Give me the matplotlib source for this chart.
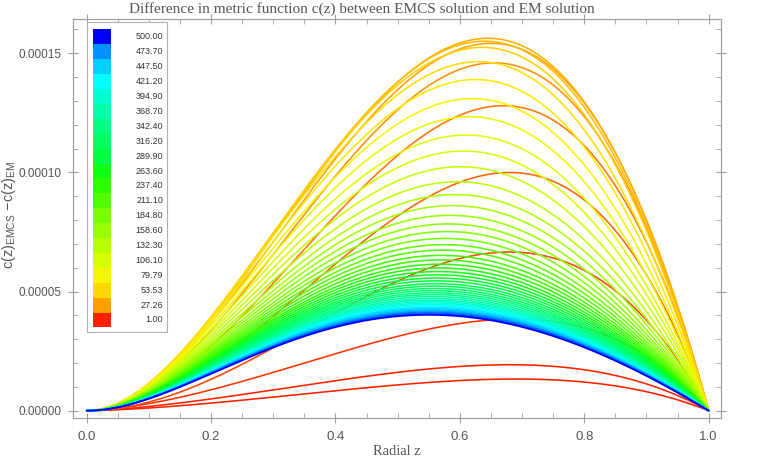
import numpy as np
import matplotlib
matplotlib.use('Agg')
import matplotlib.pyplot as plt
from matplotlib.colors import LinearSegmentedColormap
from matplotlib.patches import Rectangle

# ___data___
# parameter of every curve (sets its colour), drawn in this order
lam = [1, 2, 5, 10, 15, 20, 25, 30, 35, 40, 50, 60, 70, 80, 90, 100, 110, 120,
       130, 140, 150, 160, 170, 180, 190, 200, 210, 220, 230, 240, 250, 260,
       270, 280, 290, 300, 310, 320, 330, 340, 350, 360, 370, 380, 390, 400,
       410, 420, 430, 440, 450, 460, 470, 480, 490, 500]
# peak height of each curve (units of 1e-5)
peak_c = [1.33, 1.93, 3.85, 6.66, 10.0, 12.8, 14.6, 15.42, 15.63, 15.51, 15.25,
          14.65, 13.90, 13.10, 12.34, 11.57, 10.90, 10.24, 9.61, 9.07, 8.61,
          8.20, 7.84, 7.52, 7.23, 6.97, 6.74, 6.52, 6.33, 6.15, 5.99, 5.84,
          5.70, 5.57, 5.45, 5.33, 5.23, 5.13, 5.04, 4.95, 4.87, 4.79, 4.71,
          4.64, 4.58, 4.52, 4.46, 4.40, 4.34, 4.29, 4.24, 4.19, 4.15, 4.11,
          4.06, 4.02]
# radial position of each peak
peak_z = [0.69, 0.68, 0.69, 0.68, 0.68, 0.67, 0.655, 0.65, 0.645, 0.640, 0.636,
          0.630, 0.625, 0.620, 0.615, 0.610, 0.606, 0.601, 0.596, 0.592, 0.588,
          0.584, 0.581, 0.579, 0.576, 0.574, 0.572, 0.570, 0.569, 0.568, 0.566,
          0.565, 0.564, 0.563, 0.562, 0.561, 0.560, 0.559, 0.558, 0.558, 0.557,
          0.556, 0.556, 0.555, 0.555, 0.554, 0.554, 0.553, 0.553, 0.552, 0.552,
          0.551, 0.551, 0.551, 0.550, 0.550]
# how flat each curve leaves z = 0
start_pow = [1.5, 1.5, 1.6] + [2.0] * 53

# bar legend
legend_vals = ['1.00', '27.26', '53.53', '79.79', '106.10', '132.30', '158.60',
               '184.80', '211.10', '237.40', '263.60', '289.90', '316.20',
               '342.40', '368.70', '394.90', '421.20', '447.50', '473.70', '500.00']
legend_cols = ['#ff2000', '#ffa000', '#ffd800', '#f6f600', '#d8ff00', '#b8ff00',
               '#98ff00', '#78ff00', '#50ff00', '#30ff00', '#10ff18', '#00ff40',
               '#00ff60', '#00ff80', '#00ffa8', '#00ffd0', '#00ffff', '#00d0ff',
               '#0090ff', '#0000ff']

leg_num = [float(v) for v in legend_vals]
cmap = LinearSegmentedColormap.from_list(
    'bar', [((v - 1) / 499, c) for v, c in zip(leg_num, legend_cols)])

plt.rcParams['font.family'] = ['Liberation Sans', 'DejaVu Sans']
serif = ['Liberation Serif', 'DejaVu Serif']
grey = '#555555'
frame = '#a0a0a0'

fig = plt.figure(figsize=(7.63, 4.62), dpi=100)
ax = fig.add_axes([73 / 763, 1 - 418 / 462, 648 / 763, 399 / 462])

z = np.linspace(0, 1, 400)
for l, h, zp, a in zip(lam, peak_c, peak_z, start_pow):
    c = a / zp - 1 / (1 - zp)
    prof = (z / zp) ** a * ((1 - z) / (1 - zp)) * np.exp(-c * (z - zp))
    ax.plot(z, h * 1e-5 * prof, color=cmap((l - 1) / 499), lw=1.15,
            solid_capstyle='round')

ax.set_xlim(-0.022, 1.0198)
ax.set_ylim(-3.06e-6, 1.644e-4)
ax.set_xticks([0, 0.2, 0.4, 0.6, 0.8, 1.0])
ax.set_xticklabels(['0.0', '0.2', '0.4', '0.6', '0.8', '1.0'])
ax.set_xticks(np.arange(0, 1.01, 0.05), minor=True)
ax.set_yticks([0, 5e-5, 1e-4, 1.5e-4])
ax.set_yticklabels(['0.00000', '0.00005', '0.00010', '0.00015'])
ax.set_yticks(np.arange(0, 1.61e-4, 1e-5), minor=True)
ax.tick_params(which='both', colors=frame, labelcolor=grey, labelsize=8.5,
               top=True, right=True)
ax.tick_params(which='major', direction='inout', length=7, width=0.8, pad=4.5)
ax.tick_params(which='minor', direction='in', length=3.5, width=0.6)
ax.tick_params(axis='x', which='major', pad=6, labelsize=9.5)
for s in ax.spines.values():
    s.set_color(frame)
    s.set_linewidth(0.9)

ax.set_xlabel('Radial z', family=serif, fontsize=10.5, color=grey)
ax.xaxis.set_label_coords(0.5, -(445 - 418) / 399)
ax.set_ylabel('c(z)$_\\mathregular{EMCS}$ \u2212c(z)$_\\mathregular{EM}$',
              fontsize=10.5, color=grey)
ax.yaxis.set_label_coords(-(73 - 18.5) / 648, (418 - 215) / 399)
fig.text(362 / 763, 1 - 9 / 462,
         'Difference in metric function c(z) between EMCS solution and EM solution',
         family=serif, fontsize=11, color=grey, ha='center', va='center')

# bar legend box in the top left corner
fig.patches.append(Rectangle((87 / 763, 1 - 332 / 462), 80 / 763, 310 / 462,
                             transform=fig.transFigure, facecolor='white',
                             edgecolor='#b0b0b0', lw=0.8, zorder=5))
row_h = 14.9
for i, (v, c) in enumerate(zip(legend_vals, legend_cols)):
    yc = 320 - i * row_h
    fig.patches.append(Rectangle((93 / 763, 1 - (yc + row_h / 2) / 462),
                                 18 / 763, row_h / 462,
                                 transform=fig.transFigure, facecolor=c,
                                 edgecolor='none', zorder=6))
    fig.text(163 / 763, 1 - yc / 462, v, fontsize=6.5, color='#333333',
             ha='right', va='center', zorder=7)

fig.savefig('out.png', dpi=100)
